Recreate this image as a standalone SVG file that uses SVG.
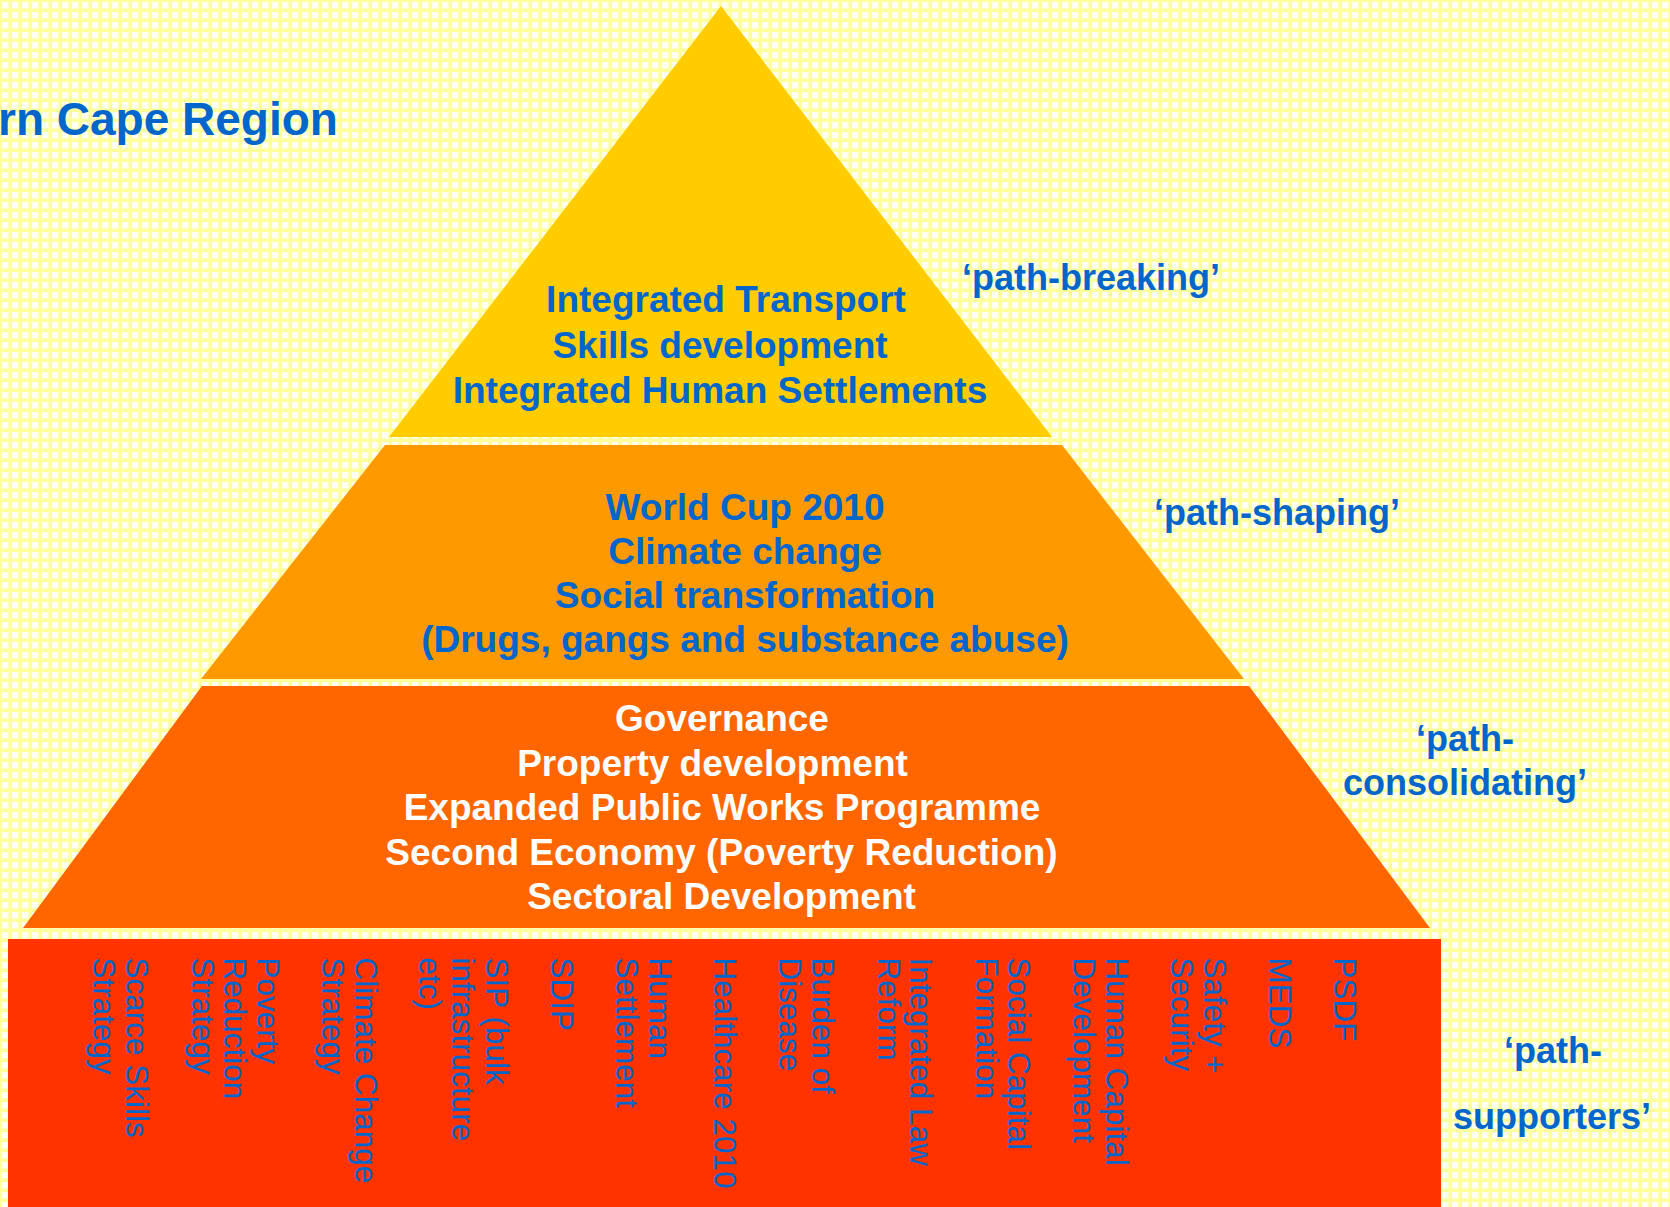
<svg xmlns="http://www.w3.org/2000/svg" width="1670" height="1207" viewBox="0 0 1670 1207">
  <defs>
    <pattern id="bg" x="0" y="0" width="10" height="10" patternUnits="userSpaceOnUse">
      <rect width="10" height="10" fill="#FFFF9C"/>
      <rect x="2" y="2" width="6.5" height="6.5" fill="#FFFFF4"/>
    </pattern>
    <style>
      .head { font-family: "Liberation Sans", Arial, sans-serif; font-weight: bold; font-size: 37px; fill: #0066CC; text-anchor: middle; }
      .white { fill: #FFFFFF; }
      .lbl { font-family: "Liberation Sans", Arial, sans-serif; font-weight: bold; font-size: 36px; fill: #0066CC; }
      .mid { text-anchor: middle; }
      .vt { font-family: "Liberation Sans", Arial, sans-serif; font-size: 31.5px; fill: #0066CC; }
      .title { font-family: "Liberation Sans", Arial, sans-serif; font-weight: bold; font-size: 46px; fill: #0066CC; }
    </style>
  </defs>

  <rect id="background" x="0" y="0" width="1670" height="1207" fill="url(#bg)"/>

  <g id="title">
    <text class="title" x="-2" y="135">rn Cape Region</text>
  </g>

  <g id="tier-path-breaking">
    <polygon points="721,6 1052,437 389,437" fill="#FFCC00"/>
    <text class="head" x="726" y="312">Integrated Transport</text>
    <text class="head" x="720" y="357.5">Skills development</text>
    <text class="head" x="720" y="403">Integrated Human Settlements</text>
  </g>

  <g id="tier-path-shaping">
    <polygon points="385,445 1062,445 1244,679 201,679" fill="#FF9900"/>
    <text class="head" x="745" y="520">World Cup 2010</text>
    <text class="head" x="745" y="564">Climate change</text>
    <text class="head" x="745" y="608">Social transformation</text>
    <text class="head" x="745" y="652">(Drugs, gangs and substance abuse)</text>
  </g>

  <g id="tier-path-consolidating">
    <polygon points="202,686 1249,686 1430,928 23,928" fill="#FF6600"/>
    <text class="head white" x="722" y="731">Governance</text>
    <text class="head white" x="712.5" y="775.5">Property development</text>
    <text class="head white" x="722" y="820">Expanded Public Works Programme</text>
    <text class="head white" x="721.5" y="864.5">Second Economy (Poverty Reduction)</text>
    <text class="head white" x="721.5" y="909">Sectoral Development</text>
  </g>

  <g id="tier-path-supporters">
    <rect x="8" y="939" width="1433" height="268" fill="#FF3300"/>
    <g id="supporter-items">
      <text class="vt" transform="translate(126,957.5) rotate(90)"><tspan x="0" y="0">Scarce Skills</tspan><tspan x="0" dy="33.3">Strategy</tspan></text>
      <text class="vt" transform="translate(256.7,957.5) rotate(90)"><tspan x="0" y="0">Poverty</tspan><tspan x="0" dy="32.5">Reduction</tspan><tspan x="0" dy="32.5">Strategy</tspan></text>
      <text class="vt" transform="translate(355,957.5) rotate(90)"><tspan x="0" y="0">Climate Change</tspan><tspan x="0" dy="32.7">Strategy</tspan></text>
      <text class="vt" transform="translate(485.7,957.5) rotate(90)"><tspan x="0" y="0">SIP (bulk</tspan><tspan x="0" dy="33.3">infrastructure</tspan><tspan x="0" dy="33.3">etc)</tspan></text>
      <text class="vt" transform="translate(551,957.5) rotate(90)">SDIP</text>
      <text class="vt" transform="translate(649,957.5) rotate(90)"><tspan x="0" y="0">Human</tspan><tspan x="0" dy="33">Settlement</tspan></text>
      <text class="vt" transform="translate(714,957.5) rotate(90)">Healthcare 2010</text>
      <text class="vt" transform="translate(812.3,957.5) rotate(90)"><tspan x="0" y="0">Burden of</tspan><tspan x="0" dy="33">Disease</tspan></text>
      <text class="vt" transform="translate(910,957.5) rotate(90)"><tspan x="0" y="0">Integrated Law</tspan><tspan x="0" dy="31.7">Reform</tspan></text>
      <text class="vt" transform="translate(1007.7,957.5) rotate(90)"><tspan x="0" y="0">Social Capital</tspan><tspan x="0" dy="32">Formation</tspan></text>
      <text class="vt" transform="translate(1106,957.5) rotate(90)"><tspan x="0" y="0">Human Capital</tspan><tspan x="0" dy="33.3">Development</tspan></text>
      <text class="vt" transform="translate(1204,957.5) rotate(90)"><tspan x="0" y="0">Safety +</tspan><tspan x="0" dy="33">Security</tspan></text>
      <text class="vt" transform="translate(1269.3,957.5) rotate(90)">MEDS</text>
      <text class="vt" transform="translate(1334.3,957.5) rotate(90)">PSDF</text>
    </g>
  </g>

  <g id="labels">
    <text id="label-path-breaking" class="lbl" x="962" y="290">‘path-breaking’</text>
    <text id="label-path-shaping" class="lbl" x="1154" y="525">‘path-shaping’</text>
    <text id="label-path-consolidating" class="lbl mid"><tspan x="1465" y="751">‘path-</tspan><tspan x="1465" y="795">consolidating’</tspan></text>
    <text id="label-path-supporters" class="lbl mid"><tspan x="1553" y="1063">‘path-</tspan><tspan x="1552" y="1129">supporters’</tspan></text>
  </g>

  <g id="connectors"/>
</svg>
